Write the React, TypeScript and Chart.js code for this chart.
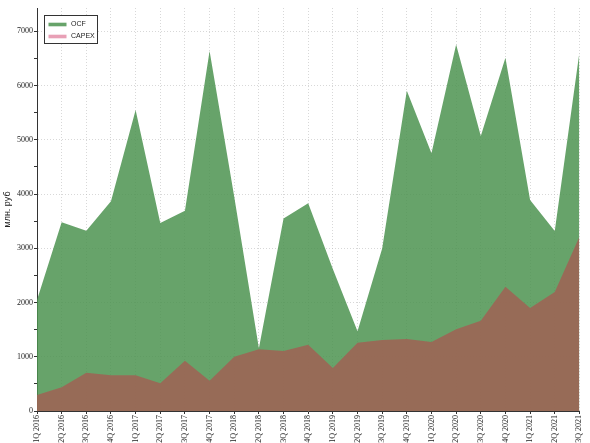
import React, { useEffect, useRef } from "react";
import { Chart, registerables } from "chart.js";

Chart.register(...registerables);

const categories = [
  "1Q 2016", "2Q 2016", "3Q 2016", "4Q 2016",
  "1Q 2017", "2Q 2017", "3Q 2017", "4Q 2017",
  "1Q 2018", "2Q 2018", "3Q 2018", "4Q 2018",
  "1Q 2019", "2Q 2019", "3Q 2019", "4Q 2019",
  "1Q 2020", "2Q 2020", "3Q 2020", "4Q 2020",
  "1Q 2021", "2Q 2021", "3Q 2021",
];

const ocf = [
  2046, 3480, 3324, 3865,
  5548, 3465, 3693, 6636,
  3950, 1155, 3551, 3828,
  2620, 1470, 2998, 5904,
  4750, 6759, 5069, 6513,
  3889, 3318, 6611,
];

const capex = [
  295, 436, 707, 657,
  657, 510, 928, 559,
  1001, 1137, 1106, 1223,
  793, 1260, 1309, 1327,
  1272, 1505, 1665, 2292,
  1898, 2193, 3213,
];

// major ticks (labelled) and minor ticks (unlabelled)
const yMajorTicks = [0, 1000, 2000, 3000, 4000, 5000, 6000, 7000];
const yMinorTicks = [500, 1500, 2500, 3500, 4500, 5500, 6500];

const yTitle = "млн. руб";
const legendColors = ["rgb(103,163,106)", "rgb(232,160,182)"];

const boxLegend = {
  id: "boxLegend",
  afterDraw(chart: any) {
    const ctx = chart.ctx;
    const x0 = 44, y0 = 15, w = 53, h = 28;
    ctx.save();
    ctx.fillStyle = "#ffffff";
    ctx.fillRect(x0, y0, w, h);
    ctx.strokeStyle = "#333333";
    ctx.lineWidth = 1;
    ctx.strokeRect(x0 + 0.5, y0 + 0.5, w, h);
    ctx.font = "7px 'Liberation Sans', Arial, sans-serif";
    ctx.textBaseline = "middle";
    chart.data.datasets.forEach((ds: any, i: number) => {
      const cy = y0 + 9.5 + i * 12;
      ctx.fillStyle = legendColors[i];
      ctx.fillRect(x0 + 4.5, cy - 1.8, 18, 3.6);
      ctx.fillStyle = "#222222";
      ctx.fillText(ds.label, x0 + 27, cy);
    });
    ctx.restore();
  },
};

const isMajor = (v: number) => yMajorTicks.indexOf(v) >= 0;

export default function App() {
  const ref = useRef<HTMLCanvasElement | null>(null);

  useEffect(() => {
    document.body.style.margin = "0";
    if (!ref.current) return;
    const chart = new Chart(ref.current, {
      type: "line",
      data: {
        labels: categories,
        datasets: [
          {
            label: "OCF",
            data: ocf,
            fill: "origin",
            backgroundColor: "rgba(76,147,80,0.85)",
            borderWidth: 0,
            pointRadius: 0,
            tension: 0,
            order: 2,
          },
          {
            label: "CAPEX",
            data: capex,
            fill: "origin",
            backgroundColor: "rgba(161,98,85,0.85)",
            borderWidth: 0,
            pointRadius: 0,
            tension: 0,
            order: 1,
          },
        ],
      },
      options: {
        responsive: false,
        animation: false,
        layout: { padding: { top: 8, right: 9, left: 0, bottom: 0 } },
        plugins: {
          legend: { display: false },
          tooltip: { enabled: false },
        },
        scales: {
          x: {
            offset: false,
            afterFit: (s: any) => { s.height = 32; },
            grid: {
              color: "rgba(190,190,190,0.6)",
              tickColor: "#333333",
              tickLength: 3,
            },
            border: { color: "#333333", width: 1, dash: [1, 2] },
            ticks: {
              autoSkip: false,
              maxRotation: 90,
              minRotation: 90,
              padding: 1,
              color: "#222222",
              font: { family: "'Liberation Serif', 'Times New Roman', serif", size: 8 },
            },
          },
          y: {
            min: 0,
            max: 7430,
            afterFit: (s: any) => { s.width = 37; },
            afterBuildTicks: (s: any) => {
              s.ticks = yMajorTicks.concat(yMinorTicks)
                .sort((a, b) => a - b)
                .map((v) => ({ value: v }));
            },
            grid: {
              color: (c: any) => (c.tick && isMajor(c.tick.value) && c.tick.value > 0 ? "rgba(190,190,190,0.6)" : "rgba(0,0,0,0)"),
              tickColor: "#333333",
              tickLength: 3,
            },
            border: { color: "#333333", width: 1, dash: [1, 2] },
            ticks: {
              autoSkip: false,
              padding: 1,
              color: "#222222",
              font: { family: "'Liberation Serif', 'Times New Roman', serif", size: 8 },
              callback: (v: any) => (isMajor(Number(v)) ? String(v) : ""),
            },
            title: {
              display: true,
              text: yTitle,
              color: "#222222",
              padding: { top: 2, bottom: 0 },
              font: { family: "'Liberation Sans', Arial, sans-serif", size: 9 },
            },
          },
        },
      },
      plugins: [boxLegend],
    });
    return () => chart.destroy();
  }, []);

  return (
    <div style={{ position: "fixed", left: 0, top: 0, width: 590, height: 443, background: "#fff" }}>
      <canvas ref={ref} width={590} height={443} style={{ width: 590, height: 443, display: "block" }} />
    </div>
  );
}
